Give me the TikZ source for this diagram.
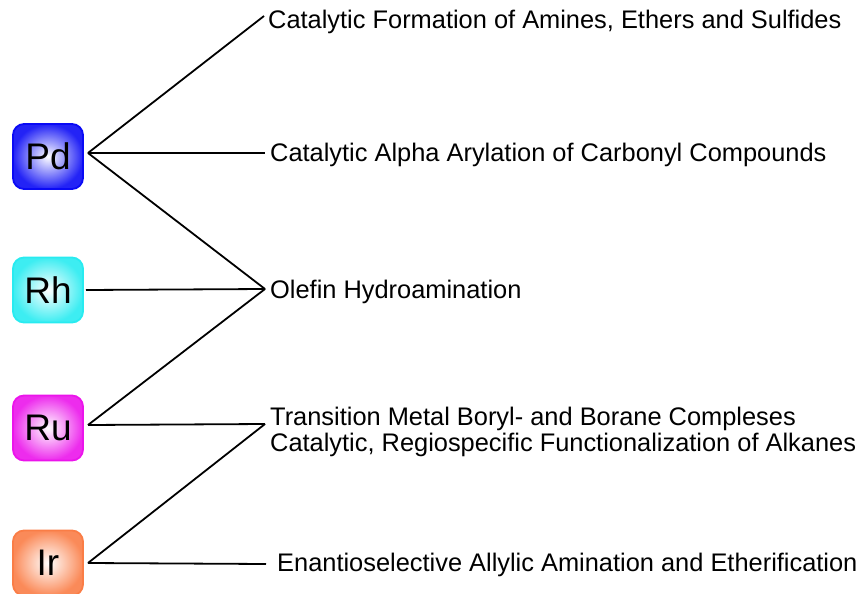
\documentclass[tikz,border=0pt]{standalone}
\usepackage{fontspec}
\setmainfont{Liberation Sans}
\definecolor{pdcol}{RGB}{10,10,245}
\definecolor{rhcol}{RGB}{40,235,240}
\definecolor{rucol}{RGB}{235,20,235}
\definecolor{ircol}{RGB}{250,125,70}
\begin{document}
\begin{tikzpicture}[x=1pt,y=-1pt,
  metal/.style={draw=#1, line width=1.8pt, rounded corners=11pt, minimum width=70pt, minimum height=65pt,
     inner color=white, outer color=#1!90!white, font=\fontsize{37}{40}\selectfont, text=black},
  lbl/.style={anchor=west, inner sep=0pt, font=\fontsize{25.4}{26}\selectfont, align=left},
  conn/.style={line width=1.8pt, black}]
\useasboundingbox (0,0) rectangle (868,594);
% metal boxes
\node[metal=pdcol] (pd) at (48,156.5) {Pd};
\node[metal=rhcol] (rh) at (48,290) {Rh};
\node[metal=rucol] (ru) at (48,428) {Ru};
\node[metal=ircol] (ir) at (48,563) {Ir};
% hubs
\coordinate (hpd) at (88,153);
\coordinate (hrh) at (86,290);
\coordinate (hru) at (88,425);
\coordinate (hir) at (88,563);
% end points
\coordinate (e1) at (264,16);
\coordinate (e2) at (265,153);
\coordinate (e3) at (265,289);
\coordinate (e4) at (265,424);
\coordinate (e5) at (266,564);
% labels
\node[lbl] (t1) at (268,22) {Catalytic Formation of Amines, Ethers and Sulfides};
\node[lbl] (t2) at (270,155) {Catalytic Alpha Arylation of Carbonyl Compounds};
\node[lbl] (t3) at (270,292) {Olefin Hydroamination};
\node[lbl] (t4) at (270,432) {Transition Metal Boryl- and Borane Compleses\\Catalytic, Regiospecific Functionalization of Alkanes};
\node[lbl] (t5) at (277,565) {Enantioselective Allylic Amination and Etherification};
% connectors
\draw[conn] (hpd) -- (e1);
\draw[conn] (hpd) -- (e2);
\draw[conn] (hpd) -- (e3);
\draw[conn] (hrh) -- (e3);
\draw[conn] (hru) -- (e3);
\draw[conn] (hru) -- (e4);
\draw[conn] (hir) -- (e4);
\draw[conn] (hir) -- (e5);
\end{tikzpicture}
\end{document}
